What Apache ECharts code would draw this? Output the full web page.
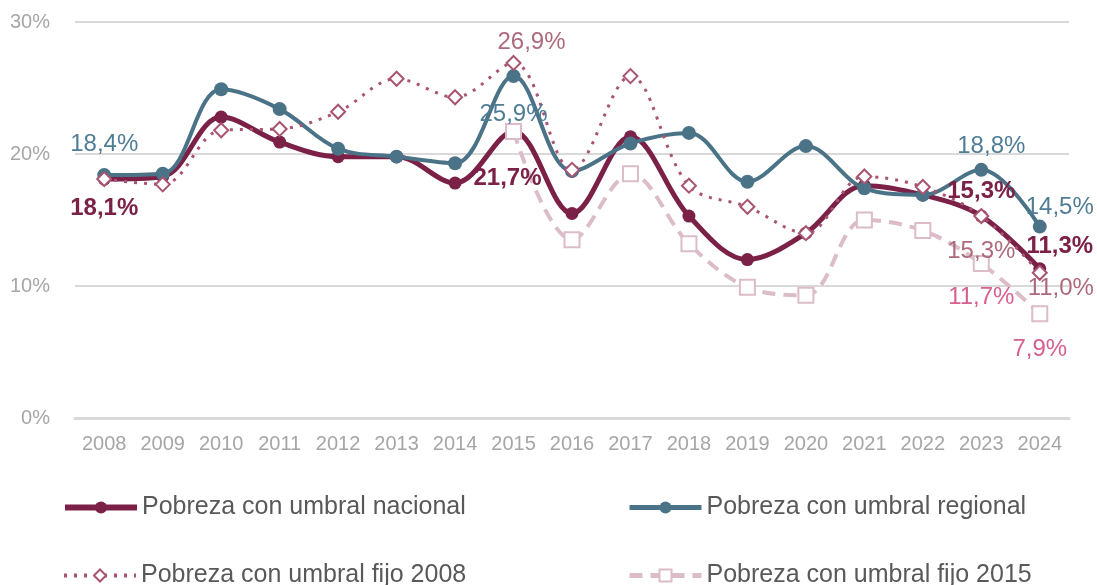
<!DOCTYPE html>
<html>
<head>
<meta charset="utf-8">
<script src="https://cdn.jsdelivr.net/npm/echarts@6/dist/echarts.min.js"></script>
<style>
  html, body { margin: 0; padding: 0; background: #fff; }
  #chart { width: 1097px; height: 585px; }
</style>
</head>
<body>
<div id="chart"></div>
<script>
const years = ['2008', '2009', '2010', '2011', '2012', '2013', '2014', '2015', '2016',
  '2017', '2018', '2019', '2020', '2021', '2022', '2023', '2024']

const nacional = [18.1, 18.3, 22.8, 20.9, 19.8, 19.8, 17.8, 21.7, 15.5, 21.3, 15.3, 12.0, 14.0, 17.6, 16.9, 15.3, 11.3]
const regional = [18.4, 18.5, 24.9, 23.4, 20.4, 19.8, 19.3, 25.9, 18.7, 20.8, 21.6, 17.9, 20.6, 17.4, 16.9, 18.8, 14.5]
const fijo2008 = [18.1, 17.7, 21.8, 21.9, 23.2, 25.7, 24.3, 26.9, 18.8, 25.9, 17.6, 16.0, 14.0, 18.3, 17.5, 15.3, 11.0]
const fijo2015 = [null, null, null, null, null, null, null, 21.7, 13.5, 18.5, 13.2, 9.9, 9.3, 15.0, 14.2, 11.7, 7.9]

const names = ['Pobreza con umbral nacional', 'Pobreza con umbral regional',
  'Pobreza con umbral fijo 2008', 'Pobreza con umbral fijo 2015']

// which points carry a value label, and where it sits relative to the point
const labelSpots = {
  nacional: { 0: [0, 29], 7: [-6, 47], 15: [0, -25], 16: [20, -22] },
  regional: { 0: [0, -31], 7: [0, 38], 15: [10, -23], 16: [20, -19] },
  fijo2008: { 7: [18, -21], 15: [0, 35], 16: [21, 16] },
  fijo2015: { 15: [0, 34], 16: [0, 36] }
}

const fmt = v => v.toFixed(1).replace('.', ',') + '%'

function withLabels (values, spots, color, bold) {
  return values.map((v, i) => {
    const off = spots[i]
    if (!off || v == null) return v
    return {
      value: v,
      label: {
        show: true,
        position: 'inside',
        offset: off,
        color: color,
        fontSize: 24,
        fontWeight: bold ? 'bold' : 'normal',
        fontFamily: 'Liberation Sans, Arial, sans-serif',
        formatter: p => fmt(p.value)
      }
    }
  })
}

function legendAt (name, left, top, lineWidth) {
  return {
    left: left,
    top: top,
    padding: 0,
    itemWidth: 72,
    itemHeight: 15,
    textStyle: { fontSize: 25, color: '#595959', padding: [0, 0, 0, 0] },
    data: [{ name: name, lineStyle: { width: lineWidth } }]
  }
}

const chart = echarts.init(document.getElementById('chart'))

chart.setOption({
  animation: false,
  textStyle: { fontFamily: 'Liberation Sans, Arial, sans-serif' },
  grid: { left: 75, right: 28, top: 22, bottom: 167 },
  legend: [
    legendAt(names[0], 62, 495, 6),
    legendAt(names[1], 627, 495, 5),
    legendAt(names[2], 62, 563, 4),
    legendAt(names[3], 627, 563, 5)
  ],
  xAxis: {
    type: 'category',
    data: years,
    boundaryGap: true,
    axisLine: { lineStyle: { color: '#d9d9d9', width: 3 } },
    axisTick: { show: false },
    axisLabel: { color: '#a6a6a6', fontSize: 20, margin: 16 }
  },
  yAxis: {
    type: 'value',
    min: 0,
    max: 30,
    interval: 10,
    axisLine: { show: false },
    axisTick: { show: false },
    axisLabel: { color: '#a6a6a6', fontSize: 20, margin: 25, formatter: '{value}%' },
    splitLine: { lineStyle: { color: '#d9d9d9', width: 2 } }
  },
  series: [
    {
      name: names[0],
      type: 'line',
      smooth: 0.35,
      symbol: 'circle',
      symbolSize: 13,
      itemStyle: { color: '#7b2046' },
      lineStyle: { color: '#7b2046', width: 5 },
      data: withLabels(nacional, labelSpots.nacional, '#7b2046', true)
    },
    {
      name: names[1],
      type: 'line',
      smooth: 0.35,
      symbol: 'circle',
      symbolSize: 14,
      itemStyle: { color: '#4b7388' },
      lineStyle: { color: '#4b7388', width: 4 },
      data: withLabels(regional, labelSpots.regional, '#4f7d96', false)
    },
    {
      name: names[2],
      type: 'line',
      smooth: 0.35,
      symbol: 'emptyDiamond',
      symbolSize: 14,
      itemStyle: { color: '#a85472', borderWidth: 2 },
      lineStyle: { color: '#a85472', width: 3, type: [3, 7] },
      data: withLabels(fijo2008, labelSpots.fijo2008, '#ad6a7c', false)
    },
    {
      name: names[3],
      type: 'line',
      smooth: 0.35,
      symbol: 'emptyRect',
      symbolSize: 15,
      connectNulls: false,
      itemStyle: { color: '#dbbcc8', borderWidth: 2 },
      lineStyle: { color: '#dbbcc8', width: 4, type: [13, 8] },
      data: withLabels(fijo2015, labelSpots.fijo2015, '#d6608f', false)
    }
  ]
})
</script>
</body>
</html>
